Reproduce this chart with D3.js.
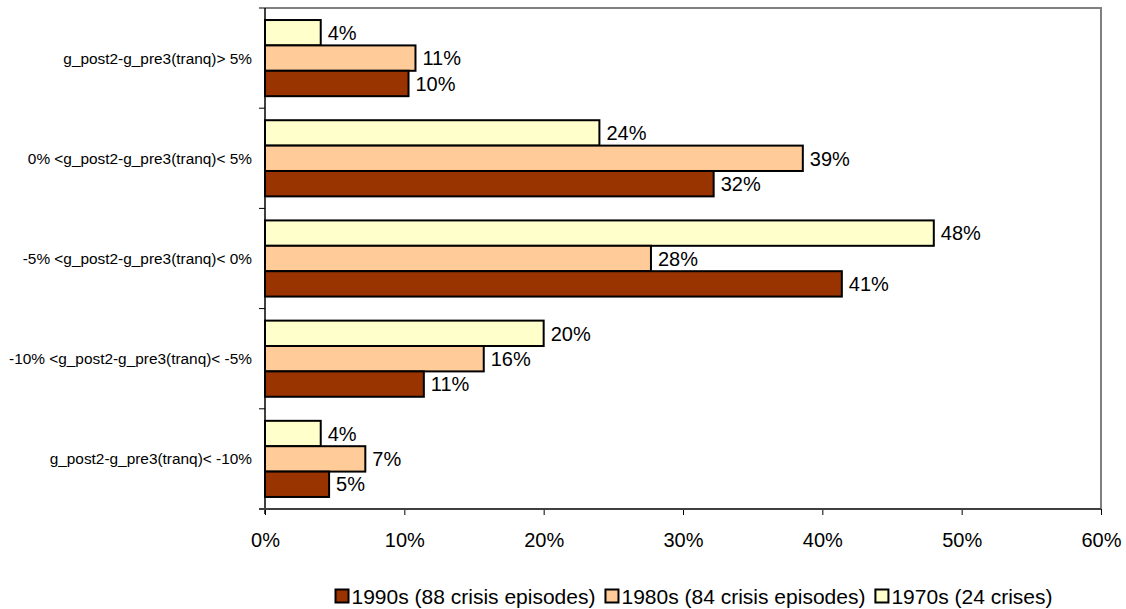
<!DOCTYPE html>
<html>
<head>
<meta charset="utf-8">
<script src="https://cdn.jsdelivr.net/npm/d3@7"></script>
<style>
  html, body { margin: 0; padding: 0; background: #fff; }
  svg { display: block; font-family: Arial, "Liberation Sans", sans-serif; }
</style>
</head>
<body>
<svg id="chart" width="1126" height="609"></svg>
<script>
// Growth-gap buckets, top to bottom
const categories = [
  "g_post2-g_pre3(tranq)> 5%",
  "0% <g_post2-g_pre3(tranq)< 5%",
  "-5% <g_post2-g_pre3(tranq)< 0%",
  "-10% <g_post2-g_pre3(tranq)< -5%",
  "g_post2-g_pre3(tranq)< -10%"
];

// Share of crisis episodes in each bucket, per decade
const series = ["1970s", "1980s", "1990s"];
const values1970s = [0.040, 0.240, 0.480, 0.200, 0.040];
const values1980s = [0.108, 0.386, 0.277, 0.157, 0.072];
const values1990s = [0.103, 0.322, 0.414, 0.114, 0.046];

const xTicks = [0, 0.1, 0.2, 0.3, 0.4, 0.5, 0.6];

// Legend order runs the other way round
const legendItems = [
  { key: "1990s", label: "1990s (88 crisis episodes)" },
  { key: "1980s", label: "1980s (84 crisis episodes)" },
  { key: "1970s", label: "1970s (24 crises)" }
];

const colors = { "1970s": "#FFFFCC", "1980s": "#FFCC99", "1990s": "#993300" };
const valuesBySeries = { "1970s": values1970s, "1980s": values1980s, "1990s": values1990s };

const plot = { left: 265, right: 1101, top: 8, bottom: 509 };
const svg = d3.select("#chart");

const x = d3.scaleLinear().domain([0, 0.6]).range([plot.left, plot.right]);
const y = d3.scaleBand().domain(categories).range([plot.top, plot.bottom])
  .paddingInner(0.24).paddingOuter(0.12);
const ySub = d3.scaleBand().domain(series).range([0, y.bandwidth()]);

// Plot frame (top and right edges)
svg.append("path")
  .attr("d", `M${plot.left},${plot.top}H${plot.right}V${plot.bottom}`)
  .attr("fill", "none").attr("stroke", "#808080").attr("stroke-width", 2);

// Bars
const rows = [];
categories.forEach((c, i) => {
  series.forEach(s => rows.push({ cat: c, s, v: valuesBySeries[s][i] }));
});

const g = svg.append("g");
g.selectAll("rect.bar").data(rows).join("rect")
  .attr("class", "bar")
  .attr("x", x(0))
  .attr("y", d => y(d.cat) + ySub(d.s))
  .attr("width", d => x(d.v) - x(0))
  .attr("height", ySub.bandwidth())
  .attr("fill", d => colors[d.s])
  .attr("stroke", "#000").attr("stroke-width", 2);

const fmt = d3.format(".0%");
g.selectAll("text.val").data(rows).join("text")
  .attr("class", "val")
  .attr("x", d => x(d.v) + 7)
  .attr("y", d => y(d.cat) + ySub(d.s) + ySub.bandwidth() / 2)
  .attr("dy", "0.36em")
  .attr("font-size", 20)
  .attr("fill", "#000")
  .text(d => fmt(d.v));

// Category axis
const yAxis = svg.append("g").attr("transform", `translate(${plot.left},0)`);
yAxis.append("line")
  .attr("x1", 0).attr("x2", 0).attr("y1", plot.top).attr("y2", plot.bottom + 5)
  .attr("stroke", "#000").attr("stroke-width", 1.5);
const bounds = d3.range(categories.length + 1).map(i => plot.top + i * y.step());
yAxis.selectAll("line.tick").data(bounds).join("line")
  .attr("class", "tick")
  .attr("x1", -6).attr("x2", 0).attr("y1", d => d).attr("y2", d => d)
  .attr("stroke", "#000").attr("stroke-width", 1);
yAxis.selectAll("text").data(categories).join("text")
  .attr("x", -13)
  .attr("y", d => y(d) + y.bandwidth() / 2)
  .attr("dy", "0.36em")
  .attr("text-anchor", "end")
  .attr("font-size", 15.4)
  .text(d => d);

// Value axis
const xAxis = svg.append("g").attr("transform", `translate(0,${plot.bottom})`)
  .call(d3.axisBottom(x).tickValues(xTicks).tickFormat(d3.format(".0%")).tickSizeInner(6).tickSizeOuter(0));
xAxis.select(".domain").remove();
xAxis.append("line")
  .attr("x1", plot.left - 6).attr("x2", plot.right).attr("y1", 0).attr("y2", 0)
  .attr("stroke", "#404040").attr("stroke-width", 2);
xAxis.selectAll(".tick line").attr("stroke", "#000");
xAxis.selectAll(".tick text")
  .attr("font-size", 20).attr("font-family", "Arial, 'Liberation Sans', sans-serif")
  .attr("fill", "#000").attr("y", 24).attr("dy", "0.71em");

// Legend, centred as a row
const legend = svg.append("g");
let lx = 0;
legendItems.forEach(item => {
  const it = legend.append("g").attr("transform", `translate(${lx},0)`);
  it.append("rect").attr("x", 0).attr("y", -6.5).attr("width", 13).attr("height", 13)
    .attr("fill", colors[item.key]).attr("stroke", "#000").attr("stroke-width", 2);
  const t = it.append("text").attr("x", 16).attr("y", 0).attr("dy", "0.36em")
    .attr("font-size", 21).text(item.label);
  lx += 16 + t.node().getComputedTextLength() + 10;
});
const legendWidth = lx - 10;
legend.attr("transform", `translate(${694 - legendWidth / 2},596)`);
</script>
</body>
</html>
